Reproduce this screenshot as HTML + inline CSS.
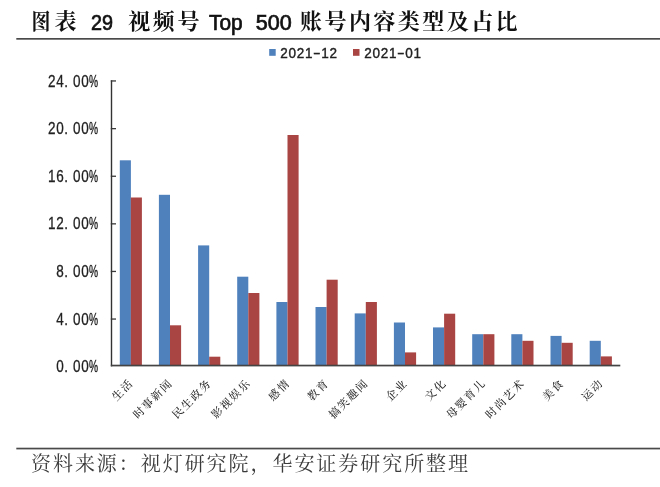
<!DOCTYPE html><html lang="zh"><head><meta charset="utf-8"><title>图表 29</title>
<style>html,body{margin:0;padding:0;background:#fff}body{width:660px;height:487px;overflow:hidden}svg{display:block;will-change:transform}.kai{font-family:"Liberation Serif","Noto Serif CJK SC",serif}.sans{font-family:"Liberation Sans","Noto Sans CJK SC",sans-serif}</style></head><body>
<svg width="660" height="487" viewBox="0 0 660 487">
<rect width="660" height="487" fill="#fff"/>
<g><text class="kai" transform="translate(41,28.8) scale(0.86,1)" text-anchor="middle" font-size="22" font-weight="700" fill="#111">图</text><text class="kai" x="54.4" y="28.8" font-size="22" font-weight="700" letter-spacing="2.6" fill="#111">表 </text><text class="sans" transform="translate(91,29.8) scale(0.9,1)" font-size="22" fill="#111" stroke="#111" stroke-width="0.7">29 </text><text class="kai" x="128.2" y="28.8" font-size="22" font-weight="700" letter-spacing="2.6" fill="#111">视频号 </text><text class="sans" transform="translate(209,29.8) scale(0.95,1)" font-size="22" fill="#111" stroke="#111" stroke-width="0.7">Top </text><text class="sans" transform="translate(255.7,29.8) scale(0.98,1)" font-size="22" fill="#111" stroke="#111" stroke-width="0.7">500 </text><text class="kai" x="300" y="28.8" font-size="22" font-weight="700" letter-spacing="2.45" fill="#111">账号内容类型及占比</text></g>
<rect x="16.3" y="38" width="643.7" height="1.7" fill="#4a4a4a"/>
<g><rect x="269.2" y="49" width="6.5" height="6.8" fill="#4f81bd"/><text class="sans" transform="translate(0,57.5) scale(0.92,1.03)" x="308.80 317.72 326.63 335.54" y="0" font-size="14.7" text-anchor="middle" fill="#222" stroke="#222" stroke-width="0.4">2021</text><text class="sans" transform="translate(316.90,57.7) scale(1.55,1)" font-size="14.7" text-anchor="middle" fill="#222" stroke="#222" stroke-width="0.4">-</text><text class="sans" transform="translate(0,57.5) scale(0.92,1.03)" x="353.37 362.28" y="0" font-size="14.7" text-anchor="middle" fill="#222" stroke="#222" stroke-width="0.4">12</text></g>
<g><rect x="353.0" y="49" width="6.5" height="6.8" fill="#a94543"/><text class="sans" transform="translate(0,57.5) scale(0.92,1.03)" x="400.11 409.02 417.93 426.85" y="0" font-size="14.7" text-anchor="middle" fill="#222" stroke="#222" stroke-width="0.4">2021</text><text class="sans" transform="translate(400.90,57.7) scale(1.55,1)" font-size="14.7" text-anchor="middle" fill="#222" stroke="#222" stroke-width="0.4">-</text><text class="sans" transform="translate(0,57.5) scale(0.92,1.03)" x="444.67 453.59" y="0" font-size="14.7" text-anchor="middle" fill="#222" stroke="#222" stroke-width="0.4">01</text></g>
<g><text class="sans" transform="translate(0,372.15) scale(0.9,1.04)" x="66.68 73.49 85.19 94.45" y="0" font-size="15" text-anchor="middle" fill="#222" stroke="#222" stroke-width="0.25">0.00</text><text class="sans" transform="translate(88.97,372.15) scale(0.68,1.04)" font-size="15" fill="#222" stroke="#222" stroke-width="0.35">%</text></g>
<g><text class="sans" transform="translate(0,324.55) scale(0.9,1.04)" x="66.68 73.49 85.19 94.45" y="0" font-size="15" text-anchor="middle" fill="#222" stroke="#222" stroke-width="0.25">4.00</text><text class="sans" transform="translate(88.97,324.55) scale(0.68,1.04)" font-size="15" fill="#222" stroke="#222" stroke-width="0.35">%</text></g>
<rect x="110.8" y="318.4" width="5.2" height="1.3" fill="#3a3a3a"/>
<g><text class="sans" transform="translate(0,276.95) scale(0.9,1.04)" x="66.68 73.49 85.19 94.45" y="0" font-size="15" text-anchor="middle" fill="#222" stroke="#222" stroke-width="0.25">8.00</text><text class="sans" transform="translate(88.97,276.95) scale(0.68,1.04)" font-size="15" fill="#222" stroke="#222" stroke-width="0.35">%</text></g>
<rect x="110.8" y="270.8" width="5.2" height="1.3" fill="#3a3a3a"/>
<g><text class="sans" transform="translate(0,229.35) scale(0.9,1.04)" x="57.43 66.68 73.49 85.19 94.45" y="0" font-size="15" text-anchor="middle" fill="#222" stroke="#222" stroke-width="0.25">12.00</text><text class="sans" transform="translate(88.97,229.35) scale(0.68,1.04)" font-size="15" fill="#222" stroke="#222" stroke-width="0.35">%</text></g>
<rect x="110.8" y="223.2" width="5.2" height="1.3" fill="#3a3a3a"/>
<g><text class="sans" transform="translate(0,181.75) scale(0.9,1.04)" x="57.43 66.68 73.49 85.19 94.45" y="0" font-size="15" text-anchor="middle" fill="#222" stroke="#222" stroke-width="0.25">16.00</text><text class="sans" transform="translate(88.97,181.75) scale(0.68,1.04)" font-size="15" fill="#222" stroke="#222" stroke-width="0.35">%</text></g>
<rect x="110.8" y="175.6" width="5.2" height="1.3" fill="#3a3a3a"/>
<g><text class="sans" transform="translate(0,134.15) scale(0.9,1.04)" x="57.43 66.68 73.49 85.19 94.45" y="0" font-size="15" text-anchor="middle" fill="#222" stroke="#222" stroke-width="0.25">20.00</text><text class="sans" transform="translate(88.97,134.15) scale(0.68,1.04)" font-size="15" fill="#222" stroke="#222" stroke-width="0.35">%</text></g>
<rect x="110.8" y="128.0" width="5.2" height="1.3" fill="#3a3a3a"/>
<g><text class="sans" transform="translate(0,86.55) scale(0.9,1.04)" x="57.43 66.68 73.49 85.19 94.45" y="0" font-size="15" text-anchor="middle" fill="#222" stroke="#222" stroke-width="0.25">24.00</text><text class="sans" transform="translate(88.97,86.55) scale(0.68,1.04)" font-size="15" fill="#222" stroke="#222" stroke-width="0.35">%</text></g>
<rect x="110.8" y="80.3" width="5.2" height="1.3" fill="#3a3a3a"/>
<rect x="119.8" y="160.3" width="11.1" height="205.5" fill="#4f81bd"/>
<rect x="130.8" y="197.5" width="11.1" height="168.3" fill="#a94543"/>
<text class="kai" font-size="11" letter-spacing="1.6" font-weight="500" fill="#2a2a2a" text-anchor="end" transform="translate(134.2,383.7) rotate(-45)">生活</text>
<rect x="158.9" y="194.8" width="11.1" height="171.0" fill="#4f81bd"/>
<rect x="170.0" y="325.3" width="11.1" height="40.5" fill="#a94543"/>
<text class="kai" font-size="11" letter-spacing="1.6" font-weight="500" fill="#2a2a2a" text-anchor="end" transform="translate(173.3,383.7) rotate(-45)">时事新闻</text>
<rect x="198.1" y="245.4" width="11.1" height="120.4" fill="#4f81bd"/>
<rect x="209.2" y="356.7" width="11.1" height="9.1" fill="#a94543"/>
<text class="kai" font-size="11" letter-spacing="1.6" font-weight="500" fill="#2a2a2a" text-anchor="end" transform="translate(212.5,383.7) rotate(-45)">民生政务</text>
<rect x="237.2" y="276.7" width="11.1" height="89.1" fill="#4f81bd"/>
<rect x="248.3" y="293.0" width="11.1" height="72.8" fill="#a94543"/>
<text class="kai" font-size="11" letter-spacing="1.6" font-weight="500" fill="#2a2a2a" text-anchor="end" transform="translate(251.6,383.7) rotate(-45)">影视娱乐</text>
<rect x="276.4" y="302.0" width="11.1" height="63.8" fill="#4f81bd"/>
<rect x="287.5" y="135.0" width="11.1" height="230.8" fill="#a94543"/>
<text class="kai" font-size="11" letter-spacing="1.6" font-weight="500" fill="#2a2a2a" text-anchor="end" transform="translate(290.8,383.7) rotate(-45)">感情</text>
<rect x="315.5" y="307.0" width="11.1" height="58.8" fill="#4f81bd"/>
<rect x="326.6" y="279.7" width="11.1" height="86.1" fill="#a94543"/>
<text class="kai" font-size="11" letter-spacing="1.6" font-weight="500" fill="#2a2a2a" text-anchor="end" transform="translate(329.9,383.7) rotate(-45)">教育</text>
<rect x="354.7" y="313.4" width="11.1" height="52.4" fill="#4f81bd"/>
<rect x="365.8" y="302.0" width="11.1" height="63.8" fill="#a94543"/>
<text class="kai" font-size="11" letter-spacing="1.6" font-weight="500" fill="#2a2a2a" text-anchor="end" transform="translate(369.1,383.7) rotate(-45)">搞笑趣闻</text>
<rect x="393.9" y="322.5" width="11.1" height="43.3" fill="#4f81bd"/>
<rect x="405.0" y="352.4" width="11.1" height="13.4" fill="#a94543"/>
<text class="kai" font-size="11" letter-spacing="1.6" font-weight="500" fill="#2a2a2a" text-anchor="end" transform="translate(408.3,383.7) rotate(-45)">企业</text>
<rect x="433.0" y="327.4" width="11.1" height="38.4" fill="#4f81bd"/>
<rect x="444.1" y="313.7" width="11.1" height="52.1" fill="#a94543"/>
<text class="kai" font-size="11" letter-spacing="1.6" font-weight="500" fill="#2a2a2a" text-anchor="end" transform="translate(447.4,383.7) rotate(-45)">文化</text>
<rect x="472.2" y="334.2" width="11.1" height="31.6" fill="#4f81bd"/>
<rect x="483.3" y="334.2" width="11.1" height="31.6" fill="#a94543"/>
<text class="kai" font-size="11" letter-spacing="1.6" font-weight="500" fill="#2a2a2a" text-anchor="end" transform="translate(486.6,383.7) rotate(-45)">母婴育儿</text>
<rect x="511.3" y="334.2" width="11.1" height="31.6" fill="#4f81bd"/>
<rect x="522.4" y="340.8" width="11.1" height="25.0" fill="#a94543"/>
<text class="kai" font-size="11" letter-spacing="1.6" font-weight="500" fill="#2a2a2a" text-anchor="end" transform="translate(525.7,383.7) rotate(-45)">时尚艺术</text>
<rect x="550.5" y="335.9" width="11.1" height="29.9" fill="#4f81bd"/>
<rect x="561.6" y="342.8" width="11.1" height="23.0" fill="#a94543"/>
<text class="kai" font-size="11" letter-spacing="1.6" font-weight="500" fill="#2a2a2a" text-anchor="end" transform="translate(564.9,383.7) rotate(-45)">美食</text>
<rect x="589.7" y="340.8" width="11.1" height="25.0" fill="#4f81bd"/>
<rect x="600.8" y="356.4" width="11.1" height="9.4" fill="#a94543"/>
<text class="kai" font-size="11" letter-spacing="1.6" font-weight="500" fill="#2a2a2a" text-anchor="end" transform="translate(604.1,383.7) rotate(-45)">运动</text>
<rect x="110.8" y="80.35" width="1.4" height="286" fill="#333"/>
<rect x="110.8" y="364.7" width="509.49999999999994" height="1.7" fill="#444"/>
<rect x="16.3" y="447.7" width="643.7" height="1.7" fill="#4a4a4a"/>
<text class="kai" x="31.0" y="471.1" font-size="20" letter-spacing="1.95" fill="#3a3a3a">资料来源：视灯研究院，华安证券研究所整理</text>
</svg></body></html>
